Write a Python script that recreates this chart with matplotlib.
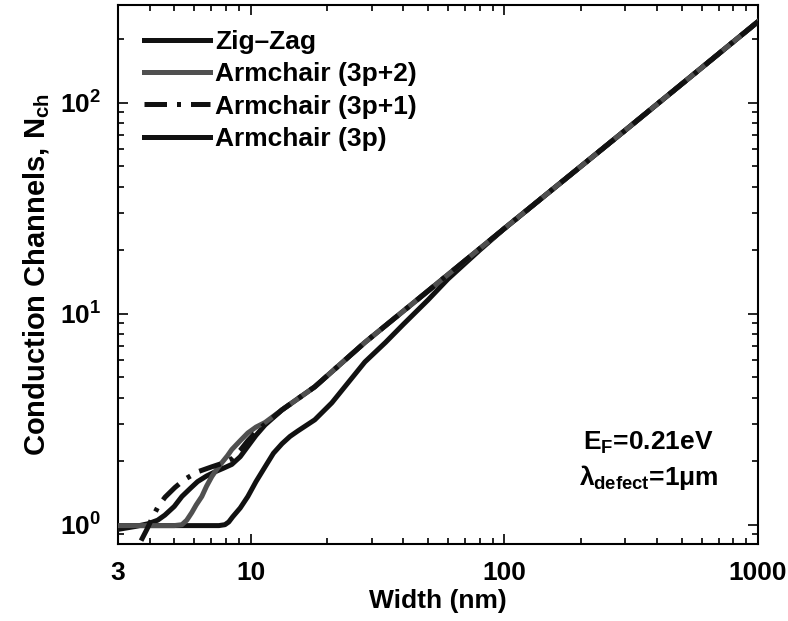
import matplotlib.pyplot as plt
from matplotlib.ticker import FixedLocator, LogLocator, NullFormatter

plt.rcParams['font.family'] = ['Liberation Sans', 'DejaVu Sans']
plt.rcParams['font.weight'] = 'bold'
plt.rcParams['mathtext.fontset'] = 'custom'
plt.rcParams['mathtext.rm'] = 'Liberation Sans:bold'
plt.rcParams['mathtext.it'] = 'Liberation Sans:bold'
plt.rcParams['mathtext.bf'] = 'Liberation Sans:bold'

# values (width in nm, number of channels)
zz_w = [3, 3.5, 3.94, 4.3, 4.59, 5.0, 5.36, 5.8, 6.18, 6.7, 7.24, 7.8, 8.43, 9.1, 9.75, 10.5, 11.4, 13.3, 17.9, 28.2, 50, 100, 300, 1000]
zz_n = [0.95, 0.98, 1.01, 1.05, 1.11, 1.22, 1.36, 1.49, 1.6, 1.7, 1.78, 1.85, 1.93, 2.1, 2.35, 2.65, 2.97, 3.5, 4.5, 7.3, 12.8, 25.3, 74, 242]

a2_w = [3, 5.0, 5.36, 5.6, 5.86, 6.1, 6.42, 6.7, 7.03, 7.4, 7.71, 8.1, 8.43, 9.1, 9.75, 10.5, 11.4, 13.3, 17.9, 28.2, 50, 100, 300, 1000]
a2_n = [0.99, 0.99, 1.0, 1.05, 1.14, 1.24, 1.36, 1.52, 1.69, 1.85, 1.97, 2.12, 2.27, 2.5, 2.72, 2.9, 3.05, 3.5, 4.5, 7.3, 12.8, 25.3, 74, 242]

a1_w = [3.7, 3.9, 4.1, 4.32, 4.6, 5.03, 5.5, 6.18, 7.03, 7.7, 8.43, 9.1, 9.75, 10.5, 11.4, 13.3, 17.9, 28.2, 50, 100, 300, 1000]
a1_n = [0.84, 0.95, 1.08, 1.22, 1.35, 1.5, 1.64, 1.78, 1.88, 1.95, 2.05, 2.25, 2.5, 2.75, 3.0, 3.5, 4.5, 7.3, 12.8, 25.3, 74, 242]

a0_w = [3, 7.5, 7.92, 8.2, 8.5, 9.1, 9.75, 10.5, 11.4, 12.3, 13.3, 14.3, 15.35, 17.9, 20.9, 24.2, 28.2, 34, 40, 50, 60, 80, 100, 300, 1000]
a0_n = [0.99, 0.99, 1.0, 1.03, 1.09, 1.2, 1.36, 1.6, 1.88, 2.18, 2.42, 2.62, 2.78, 3.14, 3.78, 4.7, 5.9, 7.3, 8.9, 11.6, 14.6, 20.0, 25.3, 74, 242]

labels = ['Zig\u2013Zag', 'Armchair (3p+2)', 'Armchair (3p+1)', 'Armchair (3p)']
x_ticks = [3, 10, 100, 1000]
x_tick_labels = ['3', '10', '100', '1000']

fig = plt.figure(figsize=(7.88, 6.21), dpi=100)
ax = fig.add_axes([0.1497, 0.124, 0.8123, 0.868])

ax.plot(zz_w, zz_n, color='#111111', lw=3.6, label=labels[0], zorder=3)
ax.plot(a2_w, a2_n, color='#505050', lw=3.6, label=labels[1], zorder=4)
ax.plot(a1_w, a1_n, color='#111111', lw=3.6, ls=(0, (4.5, 2, 0.8, 2)), label=labels[2], zorder=5)
ax.plot(a0_w, a0_n, color='#111111', lw=3.6, label=labels[3], zorder=3)

ax.set_xscale('log')
ax.set_yscale('log')
ax.set_xlim(3, 1000)
ax.set_ylim(0.81, 290)

ax.xaxis.set_major_locator(FixedLocator(x_ticks))
ax.set_xticklabels(x_tick_labels)
ax.xaxis.set_minor_locator(LogLocator(base=10, subs=range(2, 10)))
ax.xaxis.set_minor_formatter(NullFormatter())
ax.yaxis.set_major_locator(LogLocator(base=10))
ax.yaxis.set_minor_locator(LogLocator(base=10, subs=range(2, 10)))
ax.yaxis.set_minor_formatter(NullFormatter())

ax.tick_params(which='both', direction='in', top=True, right=True, width=1.2)
ax.tick_params(which='major', length=7, labelsize=19, pad=12)
ax.tick_params(which='minor', length=4)
for s in ax.spines.values():
    s.set_linewidth(1.5)

ax.set_xlabel('Width (nm)', fontsize=19, fontweight='bold', labelpad=3)
ax.set_ylabel('Conduction Channels, N$_{\\rm ch}$', fontsize=21, fontweight='bold', labelpad=6)

ax.text(0.828, 0.174, 'E$_{\\rm F}$=0.21eV', transform=ax.transAxes, fontsize=19,
        fontweight='bold', ha='center', va='baseline')
ax.text(0.83, 0.11, '$\\lambda_{\\rm defect}$=1$\\mu$m', transform=ax.transAxes, fontsize=19,
        fontweight='bold', ha='center', va='baseline')

leg = ax.legend(loc='upper left', bbox_to_anchor=(0.003, 0.998), frameon=False, fontsize=19,
                handlelength=2.5, handletextpad=0.2, labelspacing=0.32, borderaxespad=0.5)

fig.savefig('out.png', dpi=100)
